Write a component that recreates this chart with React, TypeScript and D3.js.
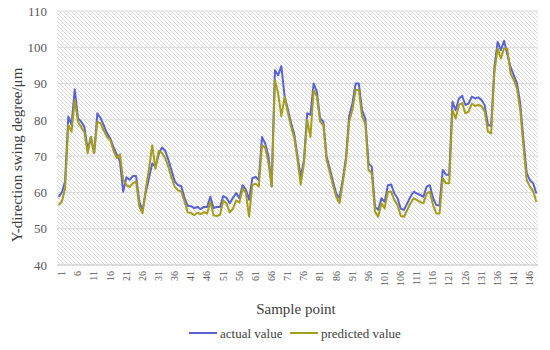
import { useEffect, useRef } from "react";
import * as d3 from "d3";

// actual value (blue)
const actual = [
  58.8, 60, 63, 80.9, 78.6, 88.4, 80.5, 79.5, 78, 71.7,
  75.3, 70.8, 81.8, 80.5, 78.5, 76.3, 74.9, 72.5, 70.5, 68.5,
  60.2, 64.2, 63.5, 64.5, 64.5, 57.5, 55, 60, 64, 68,
  67, 70.5, 72.4, 71.5, 69, 66, 63, 62, 61.7, 58.5,
  56.3, 56.2, 55.7, 56, 55.4, 56, 56, 58.8, 55.7, 56,
  56, 59, 58.5, 57, 58.5, 59.8, 58.4, 62, 60.8, 58,
  63.9, 64.3, 63.4, 75.3, 73.5, 70, 61.8, 93.7, 92.3, 94.8,
  86.5, 83, 79.2, 76, 70, 64.3, 68.9, 81.8, 81.4, 90,
  87.8, 80.4, 79.5, 70, 66.5, 63, 59.7, 58.4, 63.5, 69.5,
  81, 84.5, 90, 90, 82.7, 80.4, 68, 67.1, 56.1, 55.2,
  58.4, 57.4, 62, 62.2, 59.7, 58.4, 55.5, 55.2, 57, 58.8,
  60.2, 59.7, 59.3, 58.8, 61.6, 62, 58.4, 56.5, 56.5, 66.2,
  64.9, 64.9, 85, 82.7, 85.9, 86.6, 84.1, 84.5, 86.4, 85.9,
  86.2, 85.5, 84, 78.6, 78.3, 94.6, 101.5, 99.2, 101.8, 98,
  94.6, 92.3, 90, 84.5, 74.4, 65.3, 63.4, 62.5, 59.7,
];

// predicted value (olive)
const predicted = [
  56.5, 57.5, 61, 78.6, 76.7, 85.5, 79.5, 78, 76.5, 70.8,
  75.3, 70.8, 79.5, 79, 77, 75.3, 74.5, 71.5, 69.5, 70.5,
  63.5, 62, 61.5, 62.5, 63, 56, 54.3, 61, 66.5, 73,
  66.5, 71.5, 70.9, 69.5, 67, 64, 61.5, 60.6, 60.2, 57.5,
  54.5, 54.4, 53.7, 54.4, 54, 54.6, 54.2, 57.4, 53.7, 53.5,
  53.8, 57.8, 57, 54.5, 55.5, 57.8, 57.2, 61.1, 59.9, 53.3,
  62, 62.4, 61.6, 73, 72.3, 68.2, 61.6, 91, 87.3, 81,
  86.3, 82, 78.2, 75, 69, 62.2, 68, 80, 75.3, 88.2,
  86.4, 79.5, 78.6, 69, 65.5, 62, 58.8, 57, 62.5, 68.5,
  79.5, 82.7, 88.2, 88.2, 80.9, 79, 66.2, 65.3, 54.7, 53.3,
  57, 55.6, 60.2, 60.2, 57.9, 56.5, 53.5, 53.3, 55.2, 57,
  58.4, 57.9, 57.4, 57, 59.7, 60.2, 56.5, 54.2, 54.2, 63.9,
  62.5, 62.5, 82.7, 80.4, 84.1, 84.6, 81.8, 82.3, 84.5, 83.8,
  84.1, 83.8, 82.3, 76.7, 76.3, 93.2, 99.7, 96.9, 99.7, 99.5,
  92.8, 91, 88.7, 82.7, 72.6, 63.4, 61.6, 60.3, 57.4,
];

const samples = actual.map((_, i) => i + 1);
const xTickLabels = samples.filter((s) => (s - 1) % 5 === 0);
const yTicks = [40, 50, 60, 70, 80, 90, 100, 110];

const seriesNames = ["actual value", "predicted value"];
const seriesColors = ["#5b63d3", "#a59d1c"];

const App = () => {
  const chartRef = useRef<SVGSVGElement>(null);

  useEffect(() => {
    const svg = d3.select(chartRef.current);
    svg.selectAll("*").remove();

    const width = 550;
    const height = 350;
    const margin = { top: 11, right: 12, bottom: 85, left: 57 };
    const font = "'Liberation Serif', 'Times New Roman', serif";

    svg.attr("width", width).attr("height", height);

    // hatched plot background
    const pattern = svg
      .append("defs")
      .append("pattern")
      .attr("id", "hatch")
      .attr("patternUnits", "userSpaceOnUse")
      .attr("width", 4)
      .attr("height", 4);
    pattern.append("rect").attr("width", 4).attr("height", 4).attr("fill", "#fff");
    pattern
      .append("path")
      .attr("d", "M-1,-1 L5,5 M3,-1 L5,1 M-1,3 L1,5")
      .attr("stroke", "#d9d9d9")
      .attr("stroke-width", 1);

    const x = d3
      .scalePoint<number>()
      .domain(samples)
      .range([margin.left, width - margin.right])
      .padding(0.5);

    const y = d3
      .scaleLinear()
      .domain([40, 110])
      .range([height - margin.bottom, margin.top]);

    svg
      .append("rect")
      .attr("x", margin.left)
      .attr("y", margin.top)
      .attr("width", width - margin.left - margin.right)
      .attr("height", height - margin.top - margin.bottom)
      .attr("fill", "url(#hatch)");

    // grid lines
    svg
      .append("g")
      .selectAll("line")
      .data(yTicks)
      .join("line")
      .attr("x1", margin.left)
      .attr("x2", width - margin.right)
      .attr("y1", (d) => y(d))
      .attr("y2", (d) => y(d))
      .attr("stroke", (d) => (d === 40 ? "#bfbfbf" : "#d9d9d9"))
      .attr("stroke-width", 1);

    // Y-axis
    const yAxis = svg
      .append("g")
      .attr("transform", `translate(${margin.left},0)`)
      .call(d3.axisLeft(y).tickValues(yTicks).tickSize(0).tickPadding(10));
    yAxis.select(".domain").remove();
    yAxis
      .selectAll("text")
      .attr("font-family", font)
      .attr("font-size", 13)
      .attr("fill", "#595959");

    // X-axis
    const xAxis = svg
      .append("g")
      .attr("transform", `translate(0,${height - margin.bottom})`)
      .call(d3.axisBottom(x).tickValues(xTickLabels).tickSize(0));
    xAxis.select(".domain").remove();
    xAxis
      .selectAll("text")
      .attr("font-family", font)
      .attr("font-size", 10)
      .attr("fill", "#595959")
      .attr("text-anchor", "end")
      .attr("dy", null)
      .attr("transform", "translate(3,6) rotate(-90)");

    // Draw the lines
    [actual, predicted].forEach((values, k) => {
      const line = d3
        .line<number>()
        .x((_, i) => x(samples[i]) as number)
        .y((d) => y(d));
      svg
        .append("path")
        .datum(values)
        .attr("fill", "none")
        .attr("stroke", seriesColors[k])
        .attr("stroke-width", 2)
        .attr("stroke-linejoin", "round")
        .attr("d", line);
    });

    // axis titles
    svg
      .append("text")
      .attr("transform", `translate(22,${(margin.top + height - margin.bottom) / 2 + 17}) rotate(-90)`)
      .attr("text-anchor", "middle")
      .attr("font-family", font)
      .attr("font-size", 15)
      .attr("fill", "#404040")
      .text("Y-direction swing degree/μm");

    svg
      .append("text")
      .attr("x", 296)
      .attr("y", 314)
      .attr("text-anchor", "middle")
      .attr("font-family", font)
      .attr("font-size", 15)
      .attr("fill", "#404040")
      .text("Sample point");

    // legend
    const legendX = [189, 290];
    const legend = svg
      .append("g")
      .selectAll("g")
      .data(seriesNames)
      .join("g")
      .attr("transform", (_, i) => `translate(${legendX[i]},333)`);
    legend
      .append("line")
      .attr("x1", 0)
      .attr("x2", 28)
      .attr("stroke", (_, i) => seriesColors[i])
      .attr("stroke-width", 2);
    legend
      .append("text")
      .attr("x", 31)
      .attr("dy", "0.35em")
      .attr("font-family", font)
      .attr("font-size", 13)
      .attr("fill", "#404040")
      .text((d) => d);
  }, []);

  return <svg ref={chartRef} style={{ position: "absolute", left: 0, top: 0 }}></svg>;
};

export default App;
